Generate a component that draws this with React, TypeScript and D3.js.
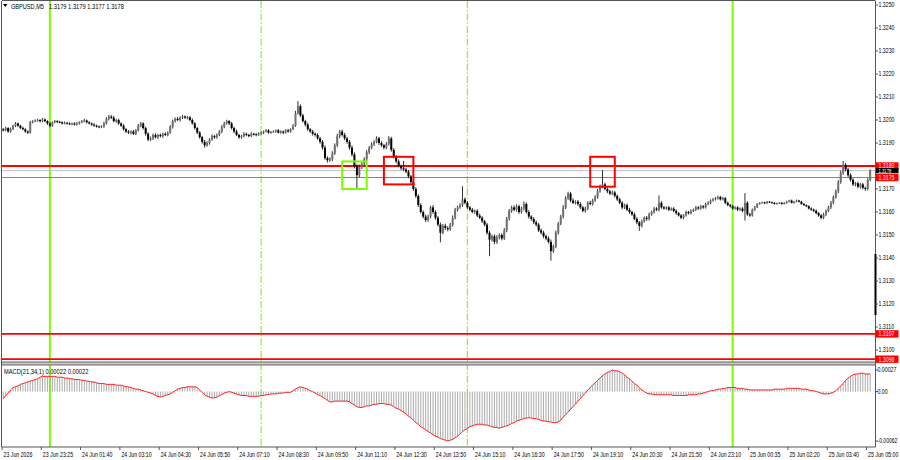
import React, { useEffect } from "react";
import * as d3 from "d3";

// ---------- DATA ----------
const firstOpen = 1.3196;
const closes = [
  1.31955, 1.31965, 1.3195, 1.3196, 1.31975, 1.31985, 1.31975, 1.31965, 1.3196, 1.3195,
  1.31945, 1.3199, 1.31995, 1.31998, 1.32, 1.31995, 1.32002, 1.31995, 1.31985, 1.31975,
  1.3199, 1.31995, 1.31992, 1.3199, 1.31985, 1.31988, 1.31985, 1.31982, 1.31985, 1.3198,
  1.31985, 1.3199, 1.31995, 1.31998, 1.3199, 1.31985, 1.3198, 1.31975, 1.31972, 1.3197,
  1.31972, 1.31985, 1.32005, 1.32015, 1.3201, 1.31995, 1.32, 1.31985, 1.31975, 1.3196,
  1.3195, 1.31945, 1.3195, 1.3194, 1.31955, 1.31975, 1.31985, 1.31965, 1.3194, 1.31915,
  1.3192, 1.31935, 1.31925, 1.31935, 1.3193, 1.3194, 1.31935, 1.31945, 1.3197, 1.31995,
  1.32005, 1.32, 1.3201, 1.32015, 1.3201, 1.32012, 1.32, 1.31985, 1.31965, 1.31945,
  1.31925, 1.31905, 1.3189, 1.319, 1.31915, 1.3193, 1.31925, 1.31935, 1.3195, 1.3197,
  1.31985, 1.31995, 1.31985, 1.31965, 1.3195, 1.31935, 1.31925, 1.3193, 1.3194, 1.31935,
  1.3193, 1.3194, 1.31938, 1.31935, 1.3194, 1.31945, 1.3195, 1.31955, 1.31945, 1.31948,
  1.3195, 1.31955, 1.31945, 1.3195, 1.31945, 1.31955, 1.3195, 1.3196, 1.31975, 1.3203,
  1.3206, 1.3202, 1.31995, 1.3198, 1.3196, 1.3195, 1.3194, 1.31935, 1.3192, 1.31905,
  1.3188, 1.31835, 1.31825, 1.3183, 1.31855, 1.3189, 1.3193, 1.3195, 1.31935, 1.3192,
  1.31905, 1.3188, 1.3185, 1.318, 1.3176, 1.31795, 1.3181, 1.3183, 1.3186, 1.3188,
  1.31895, 1.31905, 1.3192, 1.319, 1.3189, 1.3188, 1.31895, 1.3192, 1.3187, 1.3184,
  1.3182, 1.318, 1.3179, 1.31785, 1.31775, 1.31755, 1.3173, 1.317, 1.3167, 1.3163,
  1.316, 1.3158, 1.31565, 1.3158, 1.3162, 1.316, 1.31575, 1.31545, 1.3151, 1.3154,
  1.3153, 1.31525, 1.31545, 1.31575, 1.3161, 1.3162, 1.3163, 1.31655, 1.3164, 1.3162,
  1.3161, 1.316, 1.31605, 1.31585, 1.31575, 1.3156, 1.31545, 1.3151, 1.3148, 1.31495,
  1.3147, 1.3149, 1.315, 1.31485, 1.3152, 1.3157, 1.31605, 1.3162, 1.3161, 1.31625,
  1.316, 1.31615, 1.31635, 1.316, 1.3158, 1.3157, 1.31555, 1.31545, 1.3152, 1.3151,
  1.31495, 1.31485, 1.3147, 1.3143, 1.3145, 1.3151, 1.3155, 1.3158, 1.3162, 1.3166,
  1.3168, 1.3165, 1.3164, 1.31645, 1.31635, 1.3162, 1.31605, 1.31615, 1.3164, 1.31635,
  1.3165, 1.31665, 1.3169, 1.3171, 1.3172, 1.317, 1.3169, 1.3168, 1.31685, 1.3167,
  1.31655, 1.3164, 1.3162, 1.3163, 1.3161, 1.316, 1.3159, 1.3157, 1.31555, 1.3154,
  1.3156, 1.31575, 1.3157, 1.3159, 1.316, 1.31615, 1.3161, 1.3164, 1.3162, 1.31615,
  1.3162, 1.3161, 1.31615, 1.31605, 1.31595, 1.31585, 1.31575, 1.31585, 1.316, 1.31595,
  1.31605, 1.3161, 1.3162, 1.31615, 1.31625, 1.3162, 1.31635, 1.3164, 1.3165, 1.31655,
  1.3166, 1.31665, 1.31655, 1.3166, 1.3164, 1.3163, 1.31625, 1.31615, 1.3162, 1.3161,
  1.31615, 1.31605, 1.3164, 1.3159, 1.31585, 1.3161, 1.3162, 1.31635, 1.3164, 1.31642,
  1.31638, 1.31645, 1.31642, 1.3164, 1.31635, 1.31638, 1.3164, 1.31635, 1.3164, 1.31645,
  1.3165, 1.3164, 1.31645, 1.3165, 1.31645, 1.31635, 1.3163, 1.31625, 1.31615, 1.3161,
  1.31605, 1.31595, 1.31585, 1.31575, 1.3159, 1.31605, 1.3162, 1.3164, 1.31665, 1.3169,
  1.3173, 1.3177, 1.31805, 1.31785, 1.3176, 1.3174, 1.3172, 1.31725, 1.3171, 1.3172,
  1.31705, 1.317, 1.3174, 1.3178,
];
// upper / lower wick lengths in points (0.00001)
const wickUp = [
  5, 6, 4, 7, 5, 6, 4, 5, 7, 4,
  5, 6, 4, 5, 6, 4, 7, 5, 4, 6,
  4, 5, 4, 5, 4, 6, 4, 5, 4, 5,
  6, 4, 5, 7, 4, 5, 4, 6, 5, 4,
  5, 8, 7, 7, 6, 8, 5, 6, 5, 7,
  5, 6, 5, 7, 6, 8, 7, 5, 6, 7,
  8, 6, 7, 5, 6, 5, 7, 6, 8, 7,
  6, 8, 6, 7, 5, 6, 5, 7, 6, 5,
  7, 6, 8, 7, 6, 8, 5, 7, 6, 8,
  7, 6, 5, 7, 6, 8, 5, 6, 7, 5,
  5, 6, 4, 5, 6, 5, 4, 6, 5, 4,
  5, 4, 6, 5, 4, 5, 6, 4, 7, 10,
  22, 8, 7, 6, 8, 5, 7, 6, 8, 7,
  8, 10, 7, 8, 9, 8, 10, 7, 8, 9,
  7, 8, 10, 9, 8, 11, 7, 8, 9, 7,
  8, 7, 9, 7, 8, 6, 9, 10, 7, 8,
  7, 8, 6, 32, 7, 8, 6, 7, 8, 7,
  8, 7, 9, 8, 7, 10, 8, 7, 9, 8,
  9, 8, 7, 10, 8, 7, 8, 57, 8, 7,
  7, 8, 6, 7, 8, 7, 6, 8, 9, 7,
  8, 9, 7, 8, 10, 9, 8, 7, 9, 8,
  7, 8, 10, 7, 8, 6, 7, 8, 7, 9,
  8, 7, 9, 10, 8, 9, 7, 8, 10, 9,
  8, 7, 9, 6, 7, 8, 6, 8, 7, 9,
  7, 8, 10, 9, 62, 8, 7, 6, 8, 7,
  6, 7, 8, 6, 7, 8, 6, 7, 8, 6,
  7, 6, 8, 7, 6, 7, 6, 32, 7, 6,
  5, 6, 5, 6, 7, 5, 6, 5, 6, 5,
  6, 5, 6, 5, 6, 5, 6, 7, 5, 6,
  5, 6, 5, 6, 5, 6, 5, 6, 5, 5,
  5, 6, 42, 7, 6, 5, 6, 3, 3, 3,
  3, 3, 3, 3, 3, 3, 3, 3, 3, 4,
  3, 4, 3, 4, 3, 4, 4, 3, 4, 5,
  5, 6, 5, 6, 7, 6, 7, 8, 7, 8,
  9, 10, 17, 8, 7, 8, 7, 6, 7, 6,
  7, 6, 7, 6,
];
const wickDn = [
  5, 4, 6, 5, 4, 6, 5, 4, 5, 6,
  6, 4, 5, 4, 5, 6, 4, 5, 6, 7,
  5, 4, 5, 4, 5, 4, 5, 4, 5, 4,
  4, 5, 4, 5, 6, 4, 5, 4, 5, 6,
  5, 6, 5, 7, 6, 5, 7, 6, 5, 6,
  7, 6, 8, 5, 6, 5, 6, 7, 8, 7,
  6, 7, 5, 7, 6, 8, 5, 6, 5, 7,
  6, 5, 7, 6, 5, 7, 6, 5, 7, 6,
  7, 8, 10, 6, 7, 5, 7, 6, 5, 7,
  6, 5, 7, 6, 8, 5, 7, 6, 5, 6,
  5, 4, 5, 6, 4, 5, 6, 4, 5, 5,
  4, 5, 4, 5, 6, 4, 5, 5, 4, 5,
  6, 7, 6, 8, 7, 6, 8, 7, 6, 8,
  9, 8, 10, 7, 8, 7, 8, 9, 7, 8,
  8, 9, 8, 10, 62, 9, 8, 7, 8, 9,
  7, 8, 6, 8, 7, 8, 7, 6, 8, 7,
  8, 6, 7, 7, 6, 8, 7, 8, 9, 8,
  7, 8, 9, 8, 7, 8, 9, 8, 42, 7,
  8, 9, 7, 8, 7, 8, 6, 8, 7, 8,
  7, 6, 8, 7, 6, 8, 7, 8, 72, 8,
  10, 8, 9, 8, 7, 8, 7, 8, 7, 8,
  8, 7, 8, 7, 9, 8, 7, 8, 7, 8,
  9, 8, 7, 42, 8, 7, 8, 7, 8, 7,
  7, 8, 6, 7, 8, 7, 6, 8, 7, 6,
  7, 6, 7, 6, 7, 6, 8, 7, 6, 7,
  7, 6, 8, 7, 6, 8, 7, 6, 8, 22,
  7, 6, 8, 7, 6, 7, 6, 7, 6, 5,
  5, 6, 5, 6, 7, 5, 6, 7, 5, 6,
  6, 5, 6, 5, 5, 6, 5, 5, 6, 5,
  5, 6, 5, 5, 6, 5, 6, 5, 5, 6,
  5, 6, 42, 7, 6, 5, 5, 3, 3, 3,
  3, 3, 3, 3, 3, 3, 3, 3, 3, 4,
  3, 3, 4, 3, 4, 3, 4, 4, 4, 5,
  6, 5, 6, 7, 6, 7, 6, 7, 6, 7,
  8, 7, 8, 9, 7, 8, 7, 8, 7, 8,
  7, 8, 6, 6,
];
// MACD(21,34,1) main value per bar, in points (0.00001)
const macd = [
  -9, -5, -2, 2, 5, 6, 7, 9, 10, 11,
  12, 13, 14, 15, 16, 18, 19, 19, 19, 19,
  19, 19, 18, 18, 18, 17, 17, 16, 16, 15,
  15, 15, 14, 14, 13, 13, 12, 12, 11, 10,
  10, 10, 9, 9, 9, 9, 8, 8, 8, 7,
  6, 6, 5, 4, 3, 3, 2, 1, 0, -1,
  -2, -3, -5, -6, -7, -6, -5, -4, -3, -1,
  1, 3, 4, 5, 5, 6, 6, 6, 6, 5,
  2, -1, -4, -6, -7, -8, -8, -7, -5, -4,
  -2, -1, 0, -1, -2, -3, -4, -5, -5, -5,
  -6, -6, -6, -6, -6, -5, -5, -4, -4, -3,
  -3, -3, -2, -2, -2, -1, -1, -1, 1, 3,
  5, 6, 5, 4, 3, 1, 0, -2, -4, -5,
  -7, -9, -11, -13, -13, -12, -12, -12, -12, -12,
  -12, -13, -15, -17, -19, -20, -20, -19, -18, -18,
  -17, -16, -16, -15, -15, -15, -16, -16, -17, -19,
  -21, -22, -24, -26, -28, -31, -33, -36, -39, -41,
  -44, -46, -48, -50, -52, -54, -56, -57, -59, -60,
  -61, -62, -61, -60, -58, -56, -53, -50, -48, -46,
  -44, -43, -42, -41, -41, -41, -42, -42, -43, -44,
  -45, -45, -46, -45, -44, -43, -42, -40, -39, -37,
  -36, -35, -34, -33, -33, -33, -34, -34, -35, -36,
  -37, -37, -38, -38, -39, -39, -38, -36, -32, -29,
  -26, -22, -19, -16, -12, -9, -5, -2, 2, 5,
  8, 11, 14, 17, 20, 22, 24, 25, 27, 26,
  26, 25, 23, 21, 18, 16, 13, 10, 8, 5,
  2, 0, -2, -3, -3, -4, -4, -4, -4, -4,
  -4, -4, -4, -5, -5, -5, -5, -5, -5, -4,
  -4, -4, -4, -3, -3, -2, -1, 0, 1, 1,
  2, 3, 3, 4, 4, 5, 5, 5, 5, 4,
  4, 4, 3, 3, 2, 2, 2, 2, 2, 2,
  2, 2, 2, 2, 3, 3, 3, 3, 3, 4,
  4, 4, 4, 4, 4, 3, 3, 3, 2, 1,
  1, 0, -1, -2, -3, -3, -3, -2, -1, 1,
  4, 7, 10, 14, 17, 19, 21, 22, 22, 23,
  23, 22, 22, 22,
];

const priceTicks = [1.325, 1.324, 1.323, 1.322, 1.321, 1.32, 1.319, 1.318, 1.317, 1.316, 1.315, 1.314, 1.313, 1.312, 1.311, 1.31];
const macdTicks = [0.00027, 0, -0.00062];
const macdTickLabels = ["0.00027", "0.00", "-0.00062"];
const timeLabels = [
  "23 Jun 2026", "23 Jun 23:25", "24 Jun 01:40", "24 Jun 03:10", "24 Jun 04:30", "24 Jun 05:50",
  "24 Jun 07:10", "24 Jun 08:30", "24 Jun 09:50", "24 Jun 11:10", "24 Jun 12:30", "24 Jun 13:50",
  "24 Jun 15:10", "24 Jun 16:30", "24 Jun 17:50", "24 Jun 19:10", "24 Jun 20:30", "24 Jun 21:50",
  "24 Jun 23:10", "25 Jun 00:35", "25 Jun 02:20", "25 Jun 03:40", "25 Jun 05:00",
];
const timeLabelStep = 16; // bars between labels
const levelPrices = [1.318, 1.3175, 1.3107, 1.3096];
const levelLabels = ["1.3180", "1.3175", "1.3107", "1.3096"];
const currentPrice = 1.3178;
const currentLabel = "1.3178";
const solidVLineBars = [19, 297];
const dashVLineBars = [105, 189];
const boxFromBar = [138, 155, 239];
const boxToBar = [148, 167, 249];
const boxTop = [1.3182, 1.3184, 1.3184];
const boxBottom = [1.317, 1.3172, 1.3171];
const boxIsBuy = [true, false, false];
const titleSymbol = "GBPUSD,M5";
const titleOHLC = "1.3179 1.3179 1.3177 1.3178";
const macdTitle = "MACD(21,34,1) 0.00022 0.00022";

// ---------- LAYOUT ----------
const W = 900;
const H = 460;
const LEFT = 2;
const AXIS_X = 875.5;
const MAIN_TOP = 1;
const MAIN_BOTTOM = 362;
const MACD_TOP = 365;
const MACD_BOTTOM = 447;
const FONT = "'Liberation Sans', Arial, sans-serif";
const FS = 7;

function T(props: { x: number; y: number; s?: number; fill?: string; size?: number; children: React.ReactNode }) {
  const { x, y, s = 0.75, fill = "#000", size = FS, children } = props;
  return (
    <text transform={`translate(${x},${y}) scale(${s},1)`} fontFamily={FONT} fontSize={size} fill={fill}>
      {children}
    </text>
  );
}

export default function App() {
  useEffect(() => {
    document.body.style.margin = "0";
  }, []);

  const N = closes.length;
  const x = d3.scaleBand<number>().domain(d3.range(N)).range([LEFT, LEFT + 2.456 * N]).padding(0);
  const bw = x.bandwidth();
  const cx = (i: number) => (x(i) as number) + bw / 2;
  const y = d3.scaleLinear().domain([1.325, 1.31]).range([5, 350]);
  const ym = d3.scaleLinear().domain([0.00027, -0.00062]).range([370, 441]);

  const opens = closes.map((_, i) => (i === 0 ? firstOpen : closes[i - 1]));
  const macdLine = d3
    .line<number>()
    .x((_, i) => cx(i))
    .y((v) => ym(v * 1e-5));

  const red = "#ff0000";
  const green = "#7cfc00";

  return (
    <svg width={W} height={H} style={{ position: "absolute", left: 0, top: 0, background: "#fff" }}>
      <defs>
        <clipPath id="mainClip">
          <rect x={LEFT} y={MAIN_TOP} width={AXIS_X - LEFT} height={MAIN_BOTTOM - MAIN_TOP} />
        </clipPath>
        <clipPath id="macdClip">
          <rect x={LEFT} y={MACD_TOP} width={AXIS_X - LEFT} height={MACD_BOTTOM - MACD_TOP} />
        </clipPath>
      </defs>
      <rect x={0} y={0} width={W} height={H} fill="#fff" />

      {/* vertical lines */}
      {solidVLineBars.map((b) => (
        <line key={"sv" + b} x1={cx(b)} x2={cx(b)} y1={MAIN_TOP} y2={MACD_BOTTOM} stroke={green} strokeWidth={2} />
      ))}
      {dashVLineBars.map((b) => (
        <line key={"dv" + b} x1={cx(b)} x2={cx(b)} y1={MAIN_TOP} y2={MACD_BOTTOM} stroke="#8fe84e" strokeWidth={1.2} strokeDasharray="7,2,1.5,2" />
      ))}

      {/* main panel */}
      <g clipPath="url(#mainClip)">
        <line x1={LEFT} x2={AXIS_X} y1={y(currentPrice)} y2={y(currentPrice)} stroke="#c0c0c0" strokeWidth={1} />
        {levelPrices.map((p, k) => (
          <line
            key={"lv" + k}
            x1={LEFT}
            x2={AXIS_X}
            y1={y(p)}
            y2={y(p)}
            stroke={k === 1 ? "#ff5050" : red}
            strokeWidth={k === 1 ? 1 : 1.8}
          />
        ))}
        {closes.map((c, i) => {
          const o = opens[i];
          const hi = Math.max(o, c) + wickUp[i] * 1e-5;
          const lo = Math.min(o, c) - wickDn[i] * 1e-5;
          const top = y(Math.max(o, c));
          const bot = y(Math.min(o, c));
          const bull = c >= o;
          const h = Math.max(0.9, bot - top);
          return (
            <g key={"c" + i}>
              <line x1={cx(i)} x2={cx(i)} y1={y(hi)} y2={y(lo)} stroke="#1a1a1a" strokeWidth={0.9} />
              <rect x={cx(i) - 1} y={top} width={2} height={h} fill={bull ? "#707070" : "#000"} />
            </g>
          );
        })}
        {boxFromBar.map((b, k) => (
          <rect
            key={"bx" + k}
            x={cx(b)}
            y={y(boxTop[k])}
            width={cx(boxToBar[k]) - cx(b)}
            height={y(boxBottom[k]) - y(boxTop[k])}
            fill="none"
            stroke={boxIsBuy[k] ? green : red}
            strokeWidth={2}
          />
        ))}
      </g>

      {/* title */}
      <path d="M3,4 L7.5,4 L5.25,7 Z" fill="#000" />
      <T x={11} y={8.8} s={0.8}>{titleSymbol}</T>
      <T x={49} y={8.8} s={0.82}>{titleOHLC}</T>

      {/* panel separator */}
      <rect x={LEFT} y={MAIN_BOTTOM} width={AXIS_X - LEFT} height={MACD_TOP - MAIN_BOTTOM} fill="#c8c8c8" />
      <line x1={LEFT} x2={AXIS_X} y1={MAIN_BOTTOM} y2={MAIN_BOTTOM} stroke="#666" strokeWidth={1} />
      <line x1={LEFT} x2={AXIS_X} y1={MACD_TOP} y2={MACD_TOP} stroke="#666" strokeWidth={1} />

      {/* MACD panel */}
      <g clipPath="url(#macdClip)">
        {macd.map((v, i) => (
          <line key={"h" + i} x1={cx(i)} x2={cx(i)} y1={ym(0)} y2={ym(v * 1e-5)} stroke="#ababab" strokeWidth={1} />
        ))}
        <path d={macdLine(macd) || ""} fill="none" stroke="#ff2020" strokeWidth={1} />
      </g>
      <T x={4} y={373.5} s={0.82}>{macdTitle}</T>

      {/* frame */}
      <line x1={LEFT - 0.5} x2={LEFT - 0.5} y1={MAIN_TOP} y2={MACD_BOTTOM} stroke="#555" strokeWidth={1} />
      <line x1={LEFT} x2={AXIS_X} y1={MAIN_TOP - 0.5} y2={MAIN_TOP - 0.5} stroke="#555" strokeWidth={1} />
      <line x1={LEFT} x2={AXIS_X} y1={MACD_BOTTOM} y2={MACD_BOTTOM} stroke="#555" strokeWidth={1} />
      <line x1={AXIS_X} x2={AXIS_X} y1={MAIN_TOP} y2={MACD_BOTTOM} stroke="#555" strokeWidth={1} />
      <rect x={AXIS_X - 1} y={254} width={2} height={61} fill="#000" />

      {/* price axis */}
      {priceTicks.map((p) => (
        <g key={"pt" + p}>
          <line x1={AXIS_X} x2={AXIS_X + 2.5} y1={y(p)} y2={y(p)} stroke="#555" />
          <T x={AXIS_X + 3} y={y(p) + 2.4}>{p.toFixed(4)}</T>
        </g>
      ))}
      {levelPrices.map((p, k) => (
        <g key={"ll" + k}>
          <rect x={AXIS_X + 0.5} y={y(p) - 3.7} width={22.5} height={7.4} fill={red} />
          <T x={AXIS_X + 3} y={y(p) + 2.4} fill="#fff">{levelLabels[k]}</T>
        </g>
      ))}
      <rect x={AXIS_X + 0.5} y={y(currentPrice) - 2.6} width={22.5} height={5.2} fill="#000" />
      <T x={AXIS_X + 3} y={y(currentPrice) + 2} fill="#fff" size={5.6}>{currentLabel}</T>

      {/* macd axis */}
      {macdTicks.map((v, k) => (
        <g key={"mt" + k}>
          <line x1={AXIS_X} x2={AXIS_X + 2.5} y1={ym(v)} y2={ym(v)} stroke="#555" />
          <T x={AXIS_X + 2} y={ym(v) + 2.4} s={k === 2 ? 0.72 : 0.75}>{macdTickLabels[k]}</T>
        </g>
      ))}

      {/* time axis */}
      {timeLabels.map((t, k) => {
        const bx = x(k * timeLabelStep) as number;
        return (
          <g key={"tl" + k}>
            <line x1={bx} x2={bx} y1={MACD_BOTTOM} y2={MACD_BOTTOM + 3} stroke="#555" />
            <T x={bx + 1.5} y={456.5}>{t}</T>
          </g>
        );
      })}
    </svg>
  );
}
